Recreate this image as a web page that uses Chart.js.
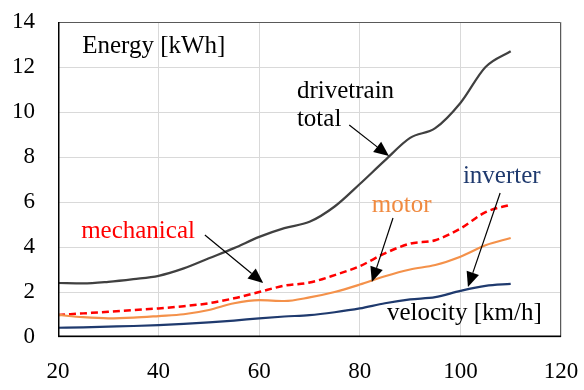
<!DOCTYPE html>
<html>
<head>
<meta charset="utf-8">
<script src="https://cdn.jsdelivr.net/npm/chart.js@4/dist/chart.umd.min.js"></script>
<style>
html,body{margin:0;padding:0;background:#fff;}
#c{display:block;}
</style>
</head>
<body>
<canvas id="c" width="584" height="390"></canvas>
<script>
// ---- data ----
const velocity = [20,25,30,35,40,45,50,55,60,65,70,75,80,85,90,95,100,105,110];
const drivetrainTotal = [2.40,2.38,2.45,2.57,2.72,3.05,3.50,3.95,4.45,4.84,5.12,5.80,6.80,7.85,8.85,9.28,10.40,12.00,12.70];
const mechanical      = [0.98,1.05,1.12,1.20,1.27,1.37,1.50,1.72,2.00,2.28,2.42,2.75,3.15,3.72,4.15,4.30,4.82,5.55,5.88];
const motor           = [0.98,0.88,0.83,0.86,0.93,1.01,1.20,1.50,1.64,1.60,1.76,2.00,2.33,2.70,3.00,3.20,3.57,4.08,4.40];
const inverter        = [0.41,0.43,0.46,0.49,0.53,0.58,0.65,0.73,0.83,0.91,0.97,1.10,1.27,1.50,1.67,1.77,2.05,2.27,2.36];
const xTicks = [20,40,60,80,100,120];
const yTicks = [0,2,4,6,8,10,12,14];

const pts = arr => velocity.map((v,i)=>({x:v,y:arr[i]}));

// annotation texts (positions in data units)
const notes = [
  {text:'Energy [kWh]', x:24.8, y:12.64, color:'#000'},
  {text:'drivetrain',   x:67.5, y:10.62, color:'#000'},
  {text:'total',        x:67.5, y:9.38,  color:'#000'},
  {text:'mechanical',   x:24.6, y:4.39,  color:'#ff0000'},
  {text:'motor',        x:82.4, y:5.57,  color:'#f08a40'},
  {text:'inverter',     x:100.5,y:6.86,  color:'#1f3a6e'},
  {text:'velocity [km/h]', x:85.4, y:0.76, color:'#000'}
];
const arrows = [
  {from:[77.9,9.42], to:[85.8,8.04]},
  {from:[49.2,4.53], to:[60.8,2.40]},
  {from:[86.6,5.29], to:[82.4,2.44]},
  {from:[107.9,6.40], to:[101.5,2.22]}
];

const FONT = '"Liberation Serif", "Times New Roman", serif';

const annot = {
  id:'annot',
  afterDatasetsDraw(chart){
    const {ctx, chartArea:a, scales:{x,y}} = chart;
    ctx.save();
    ctx.strokeStyle = '#595959'; ctx.lineWidth = 1;
    ctx.beginPath();
    ctx.moveTo(a.left, a.top+0.5); ctx.lineTo(a.right-0.5, a.top+0.5); ctx.lineTo(a.right-0.5, a.bottom);
    ctx.stroke();
    ctx.strokeStyle = '#000'; ctx.lineWidth = 1.5;
    ctx.beginPath();
    ctx.moveTo(a.left+0.75, a.top); ctx.lineTo(a.left+0.75, a.bottom-0.75); ctx.lineTo(a.right, a.bottom-0.75);
    ctx.stroke();
    ctx.font = '25px ' + FONT;
    ctx.textBaseline = 'alphabetic'; ctx.textAlign = 'left';
    notes.forEach(n=>{ ctx.fillStyle = n.color; ctx.fillText(n.text, x.getPixelForValue(n.x), y.getPixelForValue(n.y)); });
    ctx.strokeStyle = '#000'; ctx.fillStyle = '#000'; ctx.lineWidth = 1.2;
    arrows.forEach(ar=>{
      const x1 = x.getPixelForValue(ar.from[0]), y1 = y.getPixelForValue(ar.from[1]);
      const x2 = x.getPixelForValue(ar.to[0]),   y2 = y.getPixelForValue(ar.to[1]);
      const ang = Math.atan2(y2-y1, x2-x1);
      const L = 15, W = 6.5;
      const bx = x2 - L*Math.cos(ang), by = y2 - L*Math.sin(ang);
      ctx.beginPath(); ctx.moveTo(x1,y1); ctx.lineTo(bx,by); ctx.stroke();
      ctx.beginPath();
      ctx.moveTo(x2,y2);
      ctx.lineTo(bx + W*Math.sin(ang), by - W*Math.cos(ang));
      ctx.lineTo(bx - W*Math.sin(ang), by + W*Math.cos(ang));
      ctx.closePath(); ctx.fill();
    });
    ctx.restore();
  }
};

const ds = (label, arr, color, width, dash) => ({
  label, data: pts(arr), borderColor: color, borderWidth: width, borderDash: dash || [],
  pointRadius: 0, fill: false, tension: 0.4, cubicInterpolationMode: 'monotone'
});

function draw(){
  new Chart(document.getElementById('c'), {
    type: 'line',
    data: { datasets: [
      ds('inverter', inverter, '#1f3a6e', 2.2),
      ds('motor', motor, '#f4914a', 2.2),
      ds('mechanical', mechanical, '#ff0000', 2.5, [7,4]),
      ds('drivetrain total', drivetrainTotal, '#404040', 2.2)
    ]},
    options: {
      responsive: false, devicePixelRatio: 1, animation: false,
      layout: { padding: { top: 22, right: 23, left: 0, bottom: 0 } },
      plugins: { legend: { display: false }, tooltip: { enabled: false } },
      scales: {
        x: {
          type: 'linear', min: 20, max: 120,
          afterBuildTicks: s => { s.ticks = xTicks.map(v=>({value:v})); },
          afterFit: s => { s.height = 53; s.paddingLeft = 0; s.paddingRight = 0; },
          grid: { color: '#d9d9d9', lineWidth: 1, drawTicks: false },
          border: { display: false },
          ticks: { color: '#000', font: { family: FONT, size: 23 }, padding: 21, maxRotation: 0 }
        },
        y: {
          min: 0, max: 14,
          afterBuildTicks: s => { s.ticks = yTicks.map(v=>({value:v})); },
          afterFit: s => { s.width = 58; s.paddingTop = 0; s.paddingBottom = 0; },
          grid: { color: '#d9d9d9', lineWidth: 1, drawTicks: false },
          border: { display: false },
          ticks: { color: '#000', font: { family: FONT, size: 23 }, padding: 23 }
        }
      }
    },
    plugins: [annot]
  });
}
Promise.all([
  document.fonts.load('25px "Liberation Serif"'),
  document.fonts.load('23px "Liberation Serif"')
]).then(draw, draw);
</script>
</body>
</html>
